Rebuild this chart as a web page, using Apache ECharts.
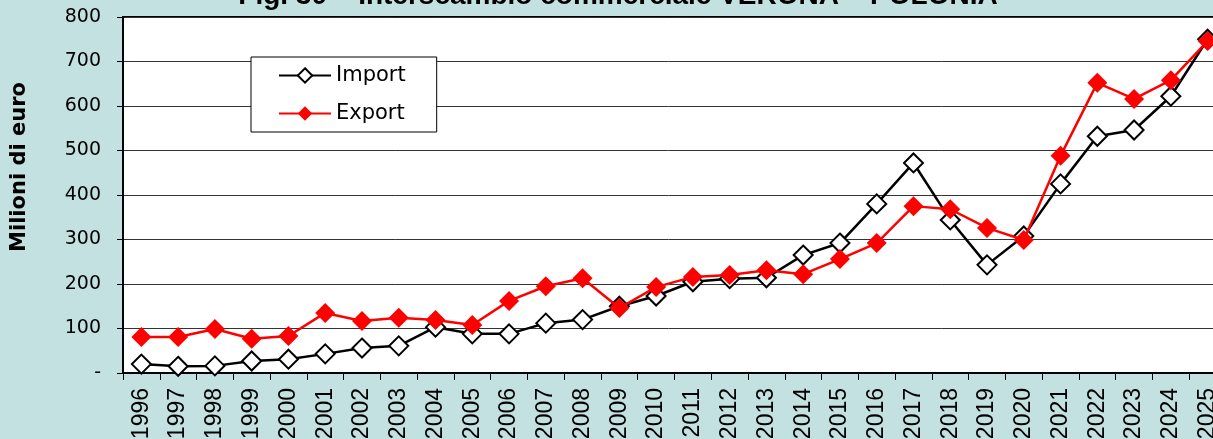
<!DOCTYPE html>
<html>
<head>
<meta charset="utf-8">
<script src="https://cdn.jsdelivr.net/npm/echarts@6/dist/echarts.min.js"></script>
<style>
  html, body { margin: 0; padding: 0; background: #c4e1e1; }
  #chart { width: 1213px; height: 439px; }
</style>
</head>
<body>
<div id="chart"></div>
<script>
// anni
var years = ['1996', '1997', '1998', '1999', '2000', '2001', '2002', '2003', '2004', '2005',
  '2006', '2007', '2008', '2009', '2010', '2011', '2012', '2013', '2014', '2015',
  '2016', '2017', '2018', '2019', '2020', '2021', '2022', '2023', '2024', '2025'];

// milioni di euro
var importData = [20, 15, 16, 27, 31, 43, 56, 61, 103, 88,
  88, 112, 120, 150, 173, 205, 212, 214, 265, 292,
  380, 472, 344, 243, 308, 425, 532, 546, 622, 750];
var exportData = [81, 81, 99, 77, 83, 135, 117, 124, 119, 108,
  162, 195, 213, 146, 193, 216, 220, 231, 222, 256,
  292, 375, 368, 326, 299, 488, 652, 616, 658, 746];

var yTicks = [0, 100, 200, 300, 400, 500, 600, 700, 800];

var chart = echarts.init(document.getElementById('chart'));

var option = {
  backgroundColor: '#c4e1e1',
  animation: false,
  title: {
    text: '{n|Fig. 30 – }{b|Interscambio commerciale VERONA – POLONIA}',
    left: 618,
    textAlign: 'center',
    top: -18,
    padding: 0,
    textStyle: {
      rich: {
        n: { fontFamily: 'Liberation Sans', fontSize: 28, color: '#000' },
        b: { fontFamily: 'Liberation Sans', fontSize: 28, fontWeight: 'bold', color: '#000' }
      }
    }
  },
  legend: {
    orient: 'vertical',
    left: 251,
    top: 57,
    padding: [8, 31, 8, 27],
    itemGap: 17,
    itemWidth: 52,
    itemHeight: 18,
    backgroundColor: '#fff',
    borderColor: '#000',
    borderWidth: 1,
    textStyle: { fontFamily: 'DejaVu Sans', fontSize: 21, color: '#000' },
    data: ['Import', 'Export']
  },
  grid: {
    left: 123,
    top: 17,
    bottom: 66,
    right: -13,
    outerBoundsMode: 'none',
    containLabel: false,
    show: true,
    backgroundColor: '#fff',
    borderColor: '#000',
    borderWidth: 2
  },
  graphic: [{
    type: 'text',
    x: 20,
    y: 167,
    rotation: Math.PI / 2,
    style: {
      text: 'Milioni di euro',
      fontFamily: 'DejaVu Sans',
      fontWeight: 'bold',
      fontSize: 21,
      fill: '#000',
      align: 'center',
      verticalAlign: 'middle'
    }
  }],
  xAxis: {
    type: 'category',
    data: years,
    boundaryGap: true,
    axisLine: { lineStyle: { color: '#000', width: 2 } },
    axisTick: { show: true, interval: 0, length: 7, lineStyle: { color: '#000' } },
    axisLabel: {
      interval: 0,
      rotate: 90,
      margin: 15,
      fontFamily: 'Liberation Sans',
      fontSize: 23,
      color: '#000'
    }
  },
  yAxis: {
    type: 'value',
    min: yTicks[0],
    max: yTicks[yTicks.length - 1],
    interval: 100,
    axisLine: { show: true, lineStyle: { color: '#000', width: 2 } },
    axisTick: { show: true, length: 6, lineStyle: { color: '#000' } },
    splitLine: { lineStyle: { color: '#333', width: 1 } },
    axisLabel: {
      margin: 22,
      fontFamily: 'DejaVu Sans',
      fontSize: 19,
      color: '#000',
      formatter: function (v) { return v === 0 ? '-' : v; }
    }
  },
  series: [
    {
      name: 'Import',
      type: 'line',
      data: importData,
      symbol: 'diamond',
      symbolSize: 19,
      lineStyle: { color: '#000', width: 2.5 },
      itemStyle: { color: '#fff', borderColor: '#000', borderWidth: 2 },
      z: 2
    },
    {
      name: 'Export',
      type: 'line',
      data: exportData,
      symbol: 'diamond',
      symbolSize: 20,
      lineStyle: { color: '#ff0000', width: 2.5 },
      itemStyle: { color: '#ff0000', borderColor: '#ff0000', borderWidth: 0 },
      z: 3
    }
  ]
};

chart.setOption(option);
</script>
</body>
</html>
